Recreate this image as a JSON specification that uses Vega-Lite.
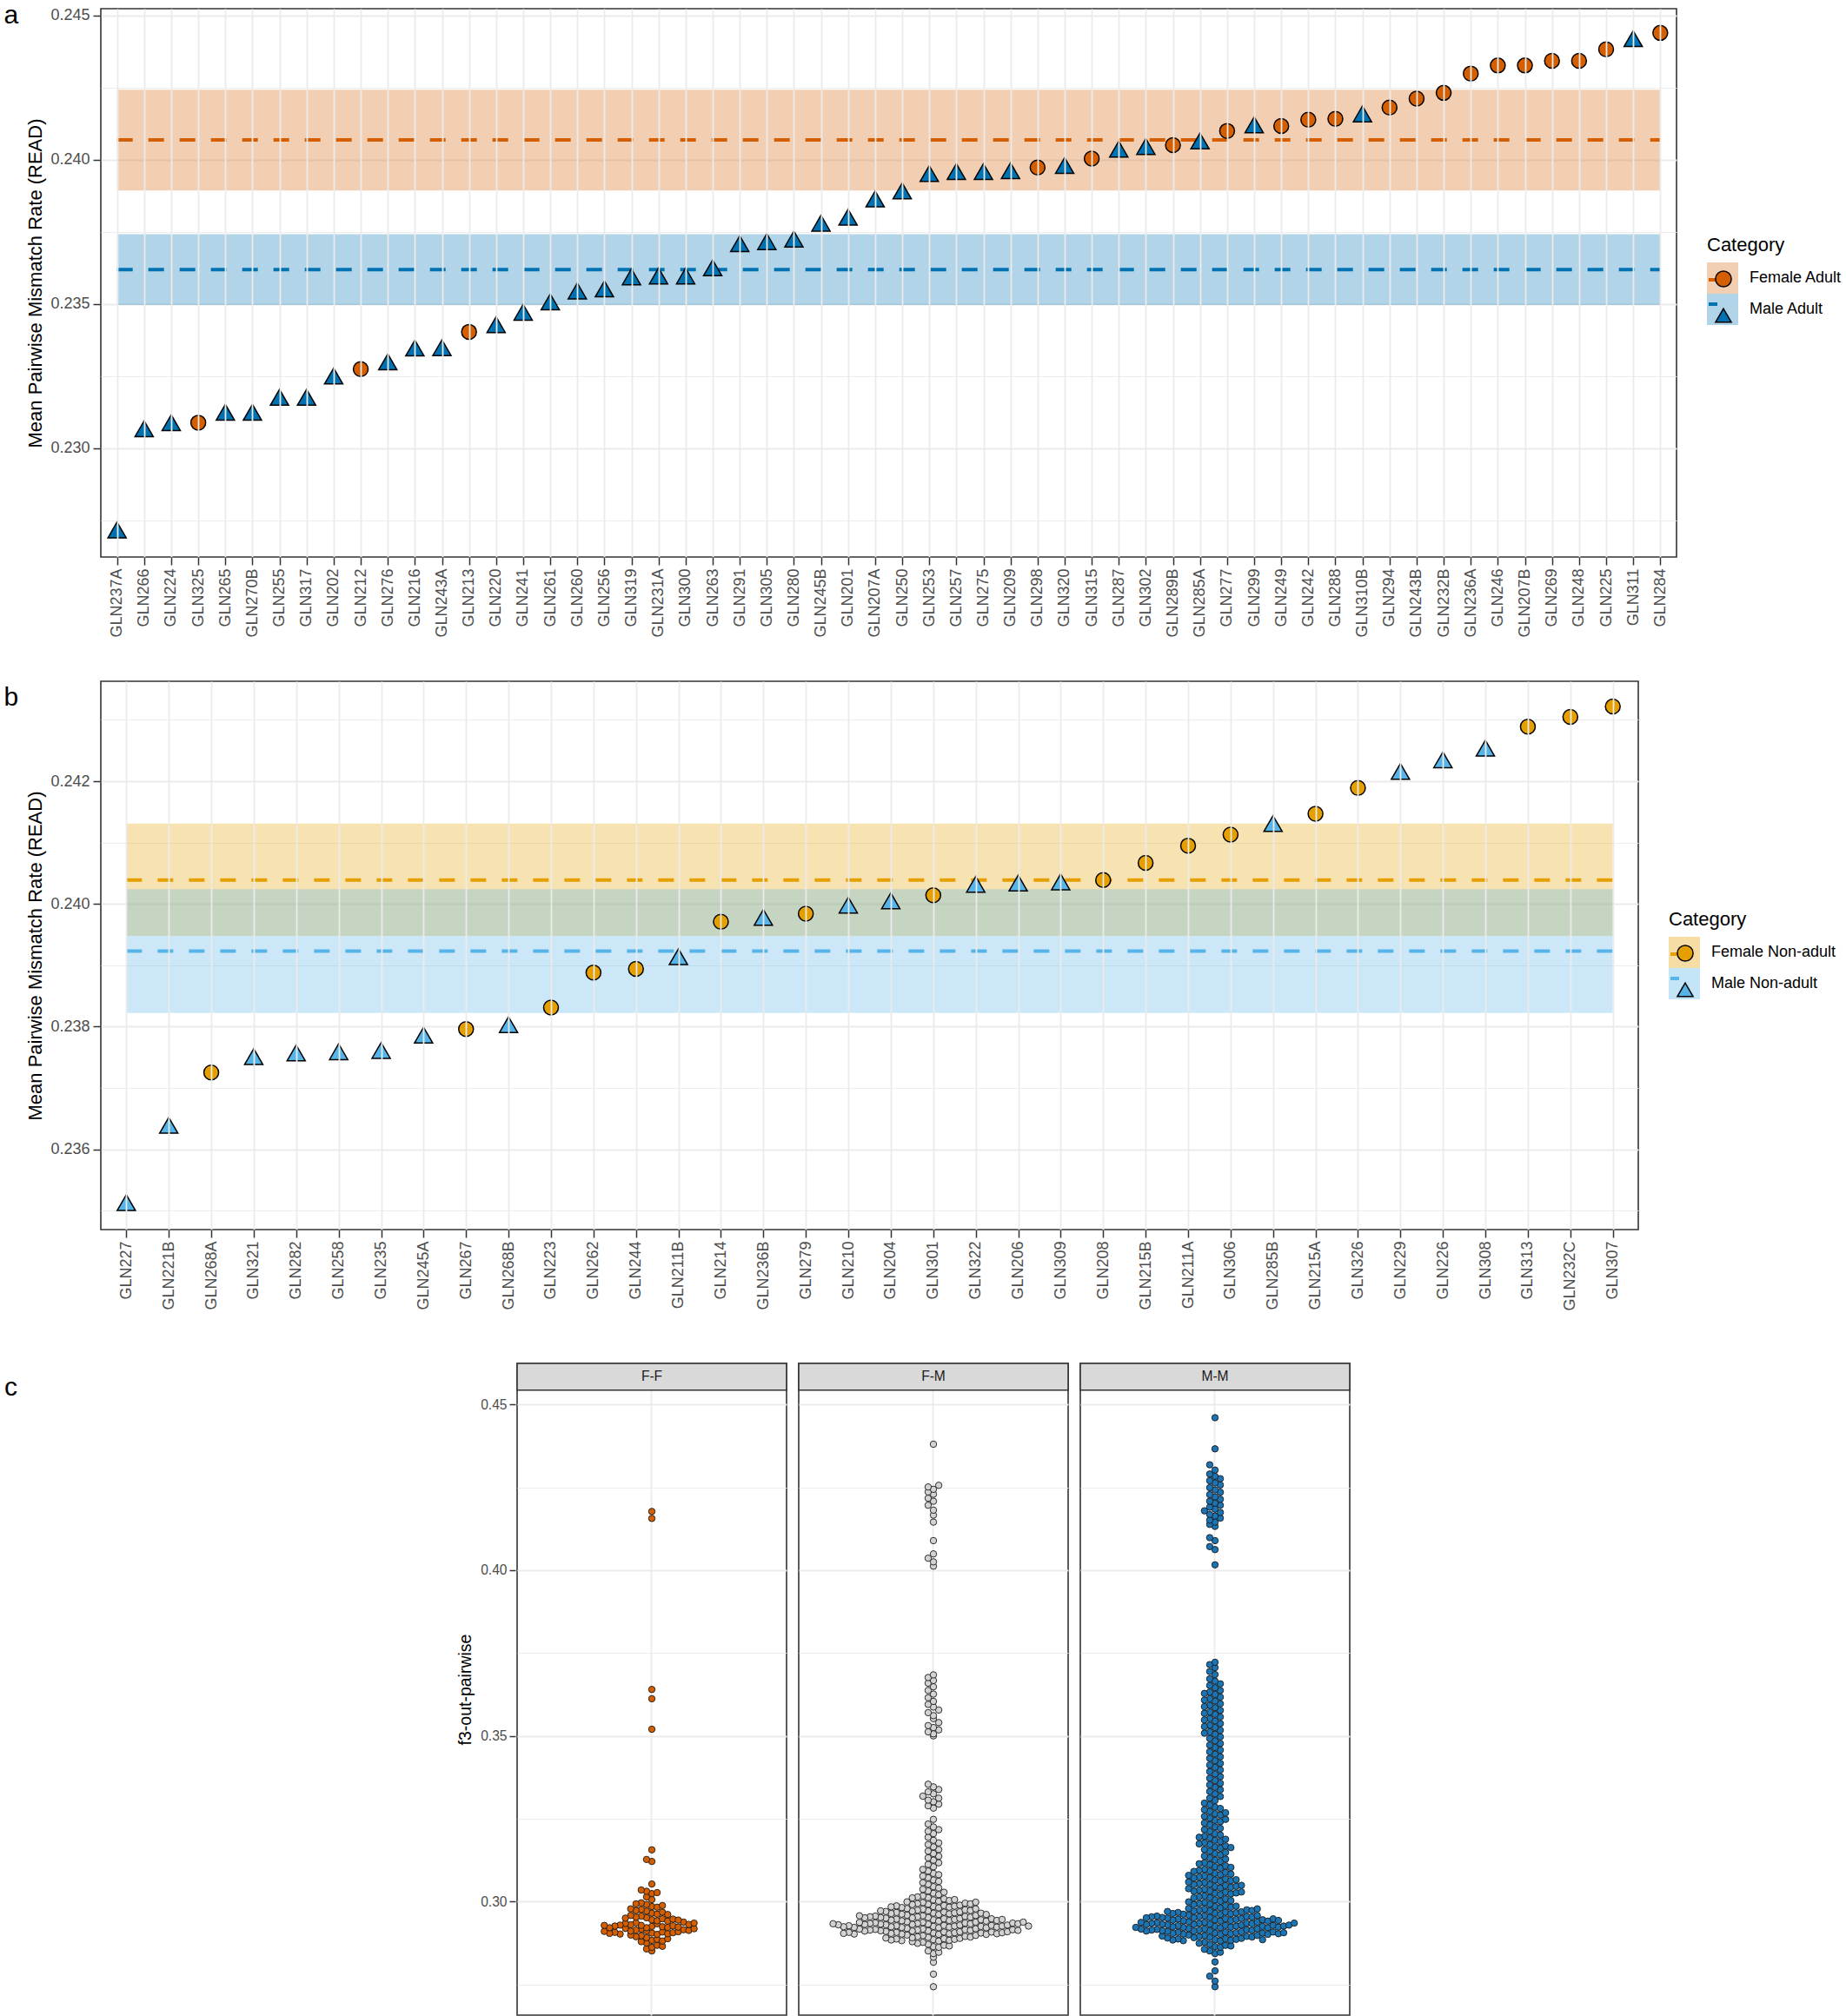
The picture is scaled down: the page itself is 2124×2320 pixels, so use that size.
{
"$schema": "https://vega.github.io/schema/vega-lite/v6.json",
"padding": {"left": 3, "top": 2, "right": 0, "bottom": 0},
"config": {
  "font": "Liberation Sans",
  "view": {"stroke": "#333333", "strokeWidth": 1.6},
  "axis": {"labelColor": "#4D4D4D", "labelFontSize": 18, "titleFontSize": 22, "titleColor": "#000000", "titleFontWeight": "normal", "tickColor": "#333333", "tickSize": 9, "tickWidth": 1.5, "domain": false, "gridColor": "#EBEBEB", "gridWidth": 1.8, "labelPadding": 4, "labelOverlap": false, "labelFlush": false},
  "title": {"fontSize": 30, "fontWeight": "normal", "color": "#000000"}
},
"resolve": {"scale": {"color": "independent", "fill": "independent", "shape": "independent", "size": "independent", "stroke": "independent"}},
"datasets": {
  "a_pts": [
    {"s":"GLN237A","v":0.22716,"c":"Male Adult"},
    {"s":"GLN266","v":0.23067,"c":"Male Adult"},
    {"s":"GLN224","v":0.23088,"c":"Male Adult"},
    {"s":"GLN325","v":0.23088,"c":"Female Adult"},
    {"s":"GLN265","v":0.23124,"c":"Male Adult"},
    {"s":"GLN270B","v":0.23124,"c":"Male Adult"},
    {"s":"GLN255","v":0.23176,"c":"Male Adult"},
    {"s":"GLN317","v":0.23176,"c":"Male Adult"},
    {"s":"GLN202","v":0.23250,"c":"Male Adult"},
    {"s":"GLN212","v":0.23274,"c":"Female Adult"},
    {"s":"GLN276","v":0.23299,"c":"Male Adult"},
    {"s":"GLN216","v":0.23347,"c":"Male Adult"},
    {"s":"GLN243A","v":0.23348,"c":"Male Adult"},
    {"s":"GLN213","v":0.23403,"c":"Female Adult"},
    {"s":"GLN220","v":0.23428,"c":"Male Adult"},
    {"s":"GLN241","v":0.23471,"c":"Male Adult"},
    {"s":"GLN261","v":0.23507,"c":"Male Adult"},
    {"s":"GLN260","v":0.23545,"c":"Male Adult"},
    {"s":"GLN256","v":0.23552,"c":"Male Adult"},
    {"s":"GLN319","v":0.23594,"c":"Male Adult"},
    {"s":"GLN231A","v":0.23597,"c":"Male Adult"},
    {"s":"GLN300","v":0.23597,"c":"Male Adult"},
    {"s":"GLN263","v":0.23625,"c":"Male Adult"},
    {"s":"GLN291","v":0.23709,"c":"Male Adult"},
    {"s":"GLN305","v":0.23716,"c":"Male Adult"},
    {"s":"GLN280","v":0.23725,"c":"Male Adult"},
    {"s":"GLN245B","v":0.23780,"c":"Male Adult"},
    {"s":"GLN201","v":0.23801,"c":"Male Adult"},
    {"s":"GLN207A","v":0.23864,"c":"Male Adult"},
    {"s":"GLN250","v":0.23892,"c":"Male Adult"},
    {"s":"GLN253","v":0.23952,"c":"Male Adult"},
    {"s":"GLN257","v":0.23959,"c":"Male Adult"},
    {"s":"GLN275","v":0.23959,"c":"Male Adult"},
    {"s":"GLN209","v":0.23962,"c":"Male Adult"},
    {"s":"GLN298","v":0.23973,"c":"Female Adult"},
    {"s":"GLN320","v":0.23980,"c":"Male Adult"},
    {"s":"GLN315","v":0.24004,"c":"Female Adult"},
    {"s":"GLN287","v":0.24037,"c":"Male Adult"},
    {"s":"GLN302","v":0.24046,"c":"Male Adult"},
    {"s":"GLN289B","v":0.24051,"c":"Female Adult"},
    {"s":"GLN285A","v":0.24065,"c":"Male Adult"},
    {"s":"GLN277","v":0.24100,"c":"Female Adult"},
    {"s":"GLN299","v":0.24121,"c":"Male Adult"},
    {"s":"GLN249","v":0.24117,"c":"Female Adult"},
    {"s":"GLN242","v":0.24139,"c":"Female Adult"},
    {"s":"GLN288","v":0.24142,"c":"Female Adult"},
    {"s":"GLN310B","v":0.24159,"c":"Male Adult"},
    {"s":"GLN294","v":0.24181,"c":"Female Adult"},
    {"s":"GLN243B","v":0.24212,"c":"Female Adult"},
    {"s":"GLN232B","v":0.24232,"c":"Female Adult"},
    {"s":"GLN236A","v":0.24299,"c":"Female Adult"},
    {"s":"GLN246","v":0.24327,"c":"Female Adult"},
    {"s":"GLN207B","v":0.24327,"c":"Female Adult"},
    {"s":"GLN269","v":0.24343,"c":"Female Adult"},
    {"s":"GLN248","v":0.24343,"c":"Female Adult"},
    {"s":"GLN225","v":0.24383,"c":"Female Adult"},
    {"s":"GLN311","v":0.24420,"c":"Male Adult"},
    {"s":"GLN284","v":0.24440,"c":"Female Adult"}
  ],
  "a_bands": [
    {"cb":"Female Adult","lo":0.23893,"hi":0.24243,"m":0.24069,"x1":"GLN237A","x2":"GLN284"},
    {"cb":"Male Adult","lo":0.23496,"hi":0.23742,"m":0.23619,"x1":"GLN237A","x2":"GLN284"}
  ],
  "b_pts": [
    {"s":"GLN227","v":0.23513,"c":"Male Non-adult"},
    {"s":"GLN221B","v":0.23639,"c":"Male Non-adult"},
    {"s":"GLN268A","v":0.23725,"c":"Female Non-adult"},
    {"s":"GLN321","v":0.23751,"c":"Male Non-adult"},
    {"s":"GLN282","v":0.23757,"c":"Male Non-adult"},
    {"s":"GLN258","v":0.23759,"c":"Male Non-adult"},
    {"s":"GLN235","v":0.23761,"c":"Male Non-adult"},
    {"s":"GLN245A","v":0.23786,"c":"Male Non-adult"},
    {"s":"GLN267","v":0.23796,"c":"Female Non-adult"},
    {"s":"GLN268B","v":0.23803,"c":"Male Non-adult"},
    {"s":"GLN223","v":0.23831,"c":"Female Non-adult"},
    {"s":"GLN262","v":0.23888,"c":"Female Non-adult"},
    {"s":"GLN244","v":0.23894,"c":"Female Non-adult"},
    {"s":"GLN211B","v":0.23914,"c":"Male Non-adult"},
    {"s":"GLN214","v":0.23971,"c":"Female Non-adult"},
    {"s":"GLN236B","v":0.23978,"c":"Male Non-adult"},
    {"s":"GLN279","v":0.23984,"c":"Female Non-adult"},
    {"s":"GLN210","v":0.23998,"c":"Male Non-adult"},
    {"s":"GLN204","v":0.24005,"c":"Male Non-adult"},
    {"s":"GLN301","v":0.24014,"c":"Female Non-adult"},
    {"s":"GLN322","v":0.24032,"c":"Male Non-adult"},
    {"s":"GLN206","v":0.24034,"c":"Male Non-adult"},
    {"s":"GLN309","v":0.24036,"c":"Male Non-adult"},
    {"s":"GLN208","v":0.24039,"c":"Female Non-adult"},
    {"s":"GLN215B","v":0.24067,"c":"Female Non-adult"},
    {"s":"GLN211A","v":0.24095,"c":"Female Non-adult"},
    {"s":"GLN306","v":0.24113,"c":"Female Non-adult"},
    {"s":"GLN285B","v":0.24131,"c":"Male Non-adult"},
    {"s":"GLN215A","v":0.24147,"c":"Female Non-adult"},
    {"s":"GLN326","v":0.24189,"c":"Female Non-adult"},
    {"s":"GLN229","v":0.24216,"c":"Male Non-adult"},
    {"s":"GLN226","v":0.24235,"c":"Male Non-adult"},
    {"s":"GLN308","v":0.24254,"c":"Male Non-adult"},
    {"s":"GLN313","v":0.24289,"c":"Female Non-adult"},
    {"s":"GLN232C","v":0.24305,"c":"Female Non-adult"},
    {"s":"GLN307","v":0.24322,"c":"Female Non-adult"}
  ],
  "b_bands": [
    {"cb":"Female Non-adult","lo":0.23948,"hi":0.24131,"m":0.24039,"x1":"GLN227","x2":"GLN307"},
    {"cb":"Male Non-adult","lo":0.23822,"hi":0.24024,"m":0.23923,"x1":"GLN227","x2":"GLN307"}
  ],
  "c_pts": [
    {"p":"F-F","v":0.2851},{"p":"F-F","v":0.2857},
    {"p":"F-F","v":0.2862},{"p":"F-F","v":0.2875},{"p":"F-F","v":0.2868},{"p":"F-F","v":0.2879},{"p":"F-F","v":0.2865},
    {"p":"F-F","v":0.2883},{"p":"F-F","v":0.2891},{"p":"F-F","v":0.2886},{"p":"F-F","v":0.2897},{"p":"F-F","v":0.2881},{"p":"F-F","v":0.2894},{"p":"F-F","v":0.2888},{"p":"F-F","v":0.2899},
    {"p":"F-F","v":0.2905},{"p":"F-F","v":0.2912},{"p":"F-F","v":0.2901},{"p":"F-F","v":0.2917},{"p":"F-F","v":0.2908},{"p":"F-F","v":0.2914},{"p":"F-F","v":0.2903},{"p":"F-F","v":0.2911},{"p":"F-F","v":0.2906},{"p":"F-F","v":0.2919},{"p":"F-F","v":0.2909},{"p":"F-F","v":0.2902},{"p":"F-F","v":0.2915},{"p":"F-F","v":0.2907},{"p":"F-F","v":0.2913},{"p":"F-F","v":0.2904},{"p":"F-F","v":0.2918},{"p":"F-F","v":0.2910},
    {"p":"F-F","v":0.2925},{"p":"F-F","v":0.2921},{"p":"F-F","v":0.2933},{"p":"F-F","v":0.2928},{"p":"F-F","v":0.2924},{"p":"F-F","v":0.2936},{"p":"F-F","v":0.2922},{"p":"F-F","v":0.2930},{"p":"F-F","v":0.2927},{"p":"F-F","v":0.2934},{"p":"F-F","v":0.2923},{"p":"F-F","v":0.2929},{"p":"F-F","v":0.2938},{"p":"F-F","v":0.2926},{"p":"F-F","v":0.2931},{"p":"F-F","v":0.2921},{"p":"F-F","v":0.2935},{"p":"F-F","v":0.2928},
    {"p":"F-F","v":0.2945},{"p":"F-F","v":0.2951},{"p":"F-F","v":0.2942},{"p":"F-F","v":0.2956},{"p":"F-F","v":0.2948},{"p":"F-F","v":0.2953},{"p":"F-F","v":0.2941},{"p":"F-F","v":0.2958},{"p":"F-F","v":0.2947},{"p":"F-F","v":0.2950},{"p":"F-F","v":0.2944},
    {"p":"F-F","v":0.2965},{"p":"F-F","v":0.2971},{"p":"F-F","v":0.2962},{"p":"F-F","v":0.2976},{"p":"F-F","v":0.2968},{"p":"F-F","v":0.2973},{"p":"F-F","v":0.2961},{"p":"F-F","v":0.2978},
    {"p":"F-F","v":0.2985},{"p":"F-F","v":0.2991},{"p":"F-F","v":0.2983},{"p":"F-F","v":0.2996},{"p":"F-F","v":0.2988},{"p":"F-F","v":0.2993},
    {"p":"F-F","v":0.3006},{"p":"F-F","v":0.3014},
    {"p":"F-F","v":0.3024},{"p":"F-F","v":0.3031},{"p":"F-F","v":0.3027},{"p":"F-F","v":0.3035},
    {"p":"F-F","v":0.3053},{"p":"F-F","v":0.3121},{"p":"F-F","v":0.3127},{"p":"F-F","v":0.3156},
    {"p":"F-F","v":0.3520},{"p":"F-F","v":0.3612},{"p":"F-F","v":0.3640},{"p":"F-F","v":0.4156},{"p":"F-F","v":0.4177},

    {"p":"F-M","v":0.2743},{"p":"F-M","v":0.2781},{"p":"F-M","v":0.2817},{"p":"F-M","v":0.2832},
    {"p":"F-M","v":0.2843},{"p":"F-M","v":0.2851},{"p":"F-M","v":0.2847},
    {"p":"F-M","v":0.2864},{"p":"F-M","v":0.2871},{"p":"F-M","v":0.2862},{"p":"F-M","v":0.2877},{"p":"F-M","v":0.2868},{"p":"F-M","v":0.2874},{"p":"F-M","v":0.2866},{"p":"F-M","v":0.2879},
    {"p":"F-M","v":0.2885},{"p":"F-M","v":0.2892},{"p":"F-M","v":0.2881},{"p":"F-M","v":0.2897},{"p":"F-M","v":0.2888},{"p":"F-M","v":0.2894},{"p":"F-M","v":0.2883},{"p":"F-M","v":0.2891},{"p":"F-M","v":0.2886},{"p":"F-M","v":0.2899},{"p":"F-M","v":0.2889},{"p":"F-M","v":0.2882},{"p":"F-M","v":0.2895},{"p":"F-M","v":0.2887},{"p":"F-M","v":0.2893},{"p":"F-M","v":0.2884},{"p":"F-M","v":0.2898},{"p":"F-M","v":0.2890},
    {"p":"F-M","v":0.2905},{"p":"F-M","v":0.2912},{"p":"F-M","v":0.2901},{"p":"F-M","v":0.2917},{"p":"F-M","v":0.2908},{"p":"F-M","v":0.2914},{"p":"F-M","v":0.2903},{"p":"F-M","v":0.2911},{"p":"F-M","v":0.2906},{"p":"F-M","v":0.2919},{"p":"F-M","v":0.2909},{"p":"F-M","v":0.2902},{"p":"F-M","v":0.2915},{"p":"F-M","v":0.2907},{"p":"F-M","v":0.2913},{"p":"F-M","v":0.2904},{"p":"F-M","v":0.2918},{"p":"F-M","v":0.2910},{"p":"F-M","v":0.2905},{"p":"F-M","v":0.2912},{"p":"F-M","v":0.2901},{"p":"F-M","v":0.2916},{"p":"F-M","v":0.2908},{"p":"F-M","v":0.2914},{"p":"F-M","v":0.2903},{"p":"F-M","v":0.2911},{"p":"F-M","v":0.2906},{"p":"F-M","v":0.2917},{"p":"F-M","v":0.2909},{"p":"F-M","v":0.2902},{"p":"F-M","v":0.2915},{"p":"F-M","v":0.2907},{"p":"F-M","v":0.2913},{"p":"F-M","v":0.2904},
    {"p":"F-M","v":0.2925},{"p":"F-M","v":0.2932},{"p":"F-M","v":0.2921},{"p":"F-M","v":0.2937},{"p":"F-M","v":0.2928},{"p":"F-M","v":0.2934},{"p":"F-M","v":0.2923},{"p":"F-M","v":0.2931},{"p":"F-M","v":0.2926},{"p":"F-M","v":0.2939},{"p":"F-M","v":0.2929},{"p":"F-M","v":0.2922},{"p":"F-M","v":0.2935},{"p":"F-M","v":0.2927},{"p":"F-M","v":0.2933},{"p":"F-M","v":0.2924},{"p":"F-M","v":0.2938},{"p":"F-M","v":0.2930},{"p":"F-M","v":0.2925},{"p":"F-M","v":0.2932},{"p":"F-M","v":0.2921},{"p":"F-M","v":0.2936},{"p":"F-M","v":0.2928},{"p":"F-M","v":0.2934},{"p":"F-M","v":0.2923},{"p":"F-M","v":0.2931},{"p":"F-M","v":0.2926},{"p":"F-M","v":0.2937},{"p":"F-M","v":0.2929},{"p":"F-M","v":0.2922},{"p":"F-M","v":0.2935},{"p":"F-M","v":0.2927},{"p":"F-M","v":0.2933},{"p":"F-M","v":0.2924},{"p":"F-M","v":0.2938},{"p":"F-M","v":0.2930},{"p":"F-M","v":0.2926},{"p":"F-M","v":0.2933},
    {"p":"F-M","v":0.2945},{"p":"F-M","v":0.2952},{"p":"F-M","v":0.2941},{"p":"F-M","v":0.2957},{"p":"F-M","v":0.2948},{"p":"F-M","v":0.2954},{"p":"F-M","v":0.2943},{"p":"F-M","v":0.2951},{"p":"F-M","v":0.2946},{"p":"F-M","v":0.2959},{"p":"F-M","v":0.2949},{"p":"F-M","v":0.2942},{"p":"F-M","v":0.2955},{"p":"F-M","v":0.2947},{"p":"F-M","v":0.2953},{"p":"F-M","v":0.2944},{"p":"F-M","v":0.2958},{"p":"F-M","v":0.2950},{"p":"F-M","v":0.2945},{"p":"F-M","v":0.2952},{"p":"F-M","v":0.2941},{"p":"F-M","v":0.2956},{"p":"F-M","v":0.2948},{"p":"F-M","v":0.2954},{"p":"F-M","v":0.2943},{"p":"F-M","v":0.2951},{"p":"F-M","v":0.2946},{"p":"F-M","v":0.2957},
    {"p":"F-M","v":0.2965},{"p":"F-M","v":0.2972},{"p":"F-M","v":0.2961},{"p":"F-M","v":0.2977},{"p":"F-M","v":0.2968},{"p":"F-M","v":0.2974},{"p":"F-M","v":0.2963},{"p":"F-M","v":0.2971},{"p":"F-M","v":0.2966},{"p":"F-M","v":0.2979},{"p":"F-M","v":0.2969},{"p":"F-M","v":0.2962},{"p":"F-M","v":0.2975},{"p":"F-M","v":0.2967},{"p":"F-M","v":0.2973},{"p":"F-M","v":0.2964},{"p":"F-M","v":0.2978},{"p":"F-M","v":0.2970},{"p":"F-M","v":0.2965},{"p":"F-M","v":0.2972},{"p":"F-M","v":0.2961},
    {"p":"F-M","v":0.2985},{"p":"F-M","v":0.2992},{"p":"F-M","v":0.2981},{"p":"F-M","v":0.2997},{"p":"F-M","v":0.2988},{"p":"F-M","v":0.2994},{"p":"F-M","v":0.2983},{"p":"F-M","v":0.2991},{"p":"F-M","v":0.2986},{"p":"F-M","v":0.2999},{"p":"F-M","v":0.2989},{"p":"F-M","v":0.2982},{"p":"F-M","v":0.2995},{"p":"F-M","v":0.2987},{"p":"F-M","v":0.2993},{"p":"F-M","v":0.2984},{"p":"F-M","v":0.2998},
    {"p":"F-M","v":0.3005},{"p":"F-M","v":0.3012},{"p":"F-M","v":0.3001},{"p":"F-M","v":0.3017},{"p":"F-M","v":0.3008},{"p":"F-M","v":0.3014},{"p":"F-M","v":0.3003},{"p":"F-M","v":0.3011},{"p":"F-M","v":0.3006},
    {"p":"F-M","v":0.3025},{"p":"F-M","v":0.3032},{"p":"F-M","v":0.3021},{"p":"F-M","v":0.3037},{"p":"F-M","v":0.3028},
    {"p":"F-M","v":0.3045},{"p":"F-M","v":0.3052},{"p":"F-M","v":0.3041},{"p":"F-M","v":0.3057},
    {"p":"F-M","v":0.3065},{"p":"F-M","v":0.3072},{"p":"F-M","v":0.3061},{"p":"F-M","v":0.3077},
    {"p":"F-M","v":0.3085},{"p":"F-M","v":0.3092},{"p":"F-M","v":0.3081},{"p":"F-M","v":0.3097},
    {"p":"F-M","v":0.3105},{"p":"F-M","v":0.3112},{"p":"F-M","v":0.3117},
    {"p":"F-M","v":0.3125},{"p":"F-M","v":0.3132},{"p":"F-M","v":0.3137},
    {"p":"F-M","v":0.3145},{"p":"F-M","v":0.3152},{"p":"F-M","v":0.3157},
    {"p":"F-M","v":0.3165},{"p":"F-M","v":0.3172},{"p":"F-M","v":0.3177},
    {"p":"F-M","v":0.3185},{"p":"F-M","v":0.3194},
    {"p":"F-M","v":0.3205},{"p":"F-M","v":0.3212},{"p":"F-M","v":0.3217},
    {"p":"F-M","v":0.3225},{"p":"F-M","v":0.3234},{"p":"F-M","v":0.3248},
    {"p":"F-M","v":0.3282},{"p":"F-M","v":0.3289},{"p":"F-M","v":0.3294},{"p":"F-M","v":0.3301},{"p":"F-M","v":0.3306},{"p":"F-M","v":0.3312},{"p":"F-M","v":0.3318},{"p":"F-M","v":0.3325},{"p":"F-M","v":0.3331},{"p":"F-M","v":0.3338},{"p":"F-M","v":0.3346},{"p":"F-M","v":0.3354},
    {"p":"F-M","v":0.3500},{"p":"F-M","v":0.3506},{"p":"F-M","v":0.3512},{"p":"F-M","v":0.3518},{"p":"F-M","v":0.3525},{"p":"F-M","v":0.3531},{"p":"F-M","v":0.3540},{"p":"F-M","v":0.3552},{"p":"F-M","v":0.3561},{"p":"F-M","v":0.3570},{"p":"F-M","v":0.3578},{"p":"F-M","v":0.3587},{"p":"F-M","v":0.3595},{"p":"F-M","v":0.3604},{"p":"F-M","v":0.3615},{"p":"F-M","v":0.3626},{"p":"F-M","v":0.3637},{"p":"F-M","v":0.3648},{"p":"F-M","v":0.3659},{"p":"F-M","v":0.3667},{"p":"F-M","v":0.3676},{"p":"F-M","v":0.3684},
    {"p":"F-M","v":0.4012},{"p":"F-M","v":0.4025},{"p":"F-M","v":0.4036},{"p":"F-M","v":0.4049},{"p":"F-M","v":0.4089},{"p":"F-M","v":0.4145},{"p":"F-M","v":0.4166},{"p":"F-M","v":0.4181},{"p":"F-M","v":0.4196},{"p":"F-M","v":0.4208},{"p":"F-M","v":0.4217},{"p":"F-M","v":0.4229},{"p":"F-M","v":0.4236},{"p":"F-M","v":0.4244},{"p":"F-M","v":0.4251},{"p":"F-M","v":0.4256},
    {"p":"F-M","v":0.4380},

    {"p":"M-M","v":0.2743},{"p":"M-M","v":0.2760},{"p":"M-M","v":0.2775},{"p":"M-M","v":0.2791},{"p":"M-M","v":0.2818},
    {"p":"M-M","v":0.2843},{"p":"M-M","v":0.2851},{"p":"M-M","v":0.2847},{"p":"M-M","v":0.2856},
    {"p":"M-M","v":0.2864},{"p":"M-M","v":0.2871},{"p":"M-M","v":0.2862},{"p":"M-M","v":0.2877},{"p":"M-M","v":0.2868},{"p":"M-M","v":0.2874},{"p":"M-M","v":0.2866},
    {"p":"M-M","v":0.2885},{"p":"M-M","v":0.2892},{"p":"M-M","v":0.2881},{"p":"M-M","v":0.2897},{"p":"M-M","v":0.2888},{"p":"M-M","v":0.2894},{"p":"M-M","v":0.2883},{"p":"M-M","v":0.2891},{"p":"M-M","v":0.2886},{"p":"M-M","v":0.2899},{"p":"M-M","v":0.2889},{"p":"M-M","v":0.2882},{"p":"M-M","v":0.2895},{"p":"M-M","v":0.2887},{"p":"M-M","v":0.2893},{"p":"M-M","v":0.2884},{"p":"M-M","v":0.2898},{"p":"M-M","v":0.2890},{"p":"M-M","v":0.2885},{"p":"M-M","v":0.2896},
    {"p":"M-M","v":0.2905},{"p":"M-M","v":0.2912},{"p":"M-M","v":0.2901},{"p":"M-M","v":0.2917},{"p":"M-M","v":0.2908},{"p":"M-M","v":0.2914},{"p":"M-M","v":0.2903},{"p":"M-M","v":0.2911},{"p":"M-M","v":0.2906},{"p":"M-M","v":0.2919},{"p":"M-M","v":0.2909},{"p":"M-M","v":0.2902},{"p":"M-M","v":0.2915},{"p":"M-M","v":0.2907},{"p":"M-M","v":0.2913},{"p":"M-M","v":0.2904},{"p":"M-M","v":0.2918},{"p":"M-M","v":0.2910},{"p":"M-M","v":0.2905},{"p":"M-M","v":0.2912},{"p":"M-M","v":0.2901},{"p":"M-M","v":0.2916},{"p":"M-M","v":0.2908},{"p":"M-M","v":0.2914},{"p":"M-M","v":0.2903},{"p":"M-M","v":0.2911},{"p":"M-M","v":0.2906},{"p":"M-M","v":0.2917},
    {"p":"M-M","v":0.2925},{"p":"M-M","v":0.2932},{"p":"M-M","v":0.2921},{"p":"M-M","v":0.2937},{"p":"M-M","v":0.2928},{"p":"M-M","v":0.2934},{"p":"M-M","v":0.2923},{"p":"M-M","v":0.2931},{"p":"M-M","v":0.2926},{"p":"M-M","v":0.2939},{"p":"M-M","v":0.2929},{"p":"M-M","v":0.2922},{"p":"M-M","v":0.2935},{"p":"M-M","v":0.2927},{"p":"M-M","v":0.2933},{"p":"M-M","v":0.2924},{"p":"M-M","v":0.2938},{"p":"M-M","v":0.2930},{"p":"M-M","v":0.2925},{"p":"M-M","v":0.2932},{"p":"M-M","v":0.2921},{"p":"M-M","v":0.2936},{"p":"M-M","v":0.2928},{"p":"M-M","v":0.2934},{"p":"M-M","v":0.2923},{"p":"M-M","v":0.2931},{"p":"M-M","v":0.2926},{"p":"M-M","v":0.2937},{"p":"M-M","v":0.2929},{"p":"M-M","v":0.2922},{"p":"M-M","v":0.2935},
    {"p":"M-M","v":0.2945},{"p":"M-M","v":0.2952},{"p":"M-M","v":0.2941},{"p":"M-M","v":0.2957},{"p":"M-M","v":0.2948},{"p":"M-M","v":0.2954},{"p":"M-M","v":0.2943},{"p":"M-M","v":0.2951},{"p":"M-M","v":0.2946},{"p":"M-M","v":0.2959},{"p":"M-M","v":0.2949},{"p":"M-M","v":0.2942},{"p":"M-M","v":0.2955},{"p":"M-M","v":0.2947},{"p":"M-M","v":0.2953},{"p":"M-M","v":0.2944},{"p":"M-M","v":0.2958},{"p":"M-M","v":0.2950},{"p":"M-M","v":0.2945},{"p":"M-M","v":0.2952},{"p":"M-M","v":0.2941},{"p":"M-M","v":0.2956},{"p":"M-M","v":0.2948},{"p":"M-M","v":0.2954},{"p":"M-M","v":0.2943},{"p":"M-M","v":0.2951},
    {"p":"M-M","v":0.2965},{"p":"M-M","v":0.2972},{"p":"M-M","v":0.2961},{"p":"M-M","v":0.2977},{"p":"M-M","v":0.2968},{"p":"M-M","v":0.2974},{"p":"M-M","v":0.2963},{"p":"M-M","v":0.2971},{"p":"M-M","v":0.2966},{"p":"M-M","v":0.2979},{"p":"M-M","v":0.2969},{"p":"M-M","v":0.2962},{"p":"M-M","v":0.2975},{"p":"M-M","v":0.2967},{"p":"M-M","v":0.2973},{"p":"M-M","v":0.2964},{"p":"M-M","v":0.2978},{"p":"M-M","v":0.2970},
    {"p":"M-M","v":0.2985},{"p":"M-M","v":0.2992},{"p":"M-M","v":0.2981},{"p":"M-M","v":0.2997},{"p":"M-M","v":0.2988},{"p":"M-M","v":0.2994},{"p":"M-M","v":0.2983},{"p":"M-M","v":0.2991},{"p":"M-M","v":0.2986},{"p":"M-M","v":0.2999},
    {"p":"M-M","v":0.3005},{"p":"M-M","v":0.3012},{"p":"M-M","v":0.3001},{"p":"M-M","v":0.3017},{"p":"M-M","v":0.3008},{"p":"M-M","v":0.3014},{"p":"M-M","v":0.3003},{"p":"M-M","v":0.3011},
    {"p":"M-M","v":0.3025},{"p":"M-M","v":0.3032},{"p":"M-M","v":0.3021},{"p":"M-M","v":0.3037},{"p":"M-M","v":0.3028},{"p":"M-M","v":0.3034},{"p":"M-M","v":0.3023},{"p":"M-M","v":0.3031},{"p":"M-M","v":0.3026},{"p":"M-M","v":0.3039},{"p":"M-M","v":0.3029},
    {"p":"M-M","v":0.3045},{"p":"M-M","v":0.3052},{"p":"M-M","v":0.3041},{"p":"M-M","v":0.3057},{"p":"M-M","v":0.3048},{"p":"M-M","v":0.3054},{"p":"M-M","v":0.3043},{"p":"M-M","v":0.3051},{"p":"M-M","v":0.3046},{"p":"M-M","v":0.3059},{"p":"M-M","v":0.3049},
    {"p":"M-M","v":0.3065},{"p":"M-M","v":0.3072},{"p":"M-M","v":0.3061},{"p":"M-M","v":0.3077},{"p":"M-M","v":0.3068},{"p":"M-M","v":0.3074},{"p":"M-M","v":0.3063},{"p":"M-M","v":0.3071},{"p":"M-M","v":0.3066},{"p":"M-M","v":0.3079},
    {"p":"M-M","v":0.3085},{"p":"M-M","v":0.3092},{"p":"M-M","v":0.3081},{"p":"M-M","v":0.3097},{"p":"M-M","v":0.3088},{"p":"M-M","v":0.3094},{"p":"M-M","v":0.3083},{"p":"M-M","v":0.3091},
    {"p":"M-M","v":0.3105},{"p":"M-M","v":0.3112},{"p":"M-M","v":0.3101},{"p":"M-M","v":0.3117},{"p":"M-M","v":0.3108},{"p":"M-M","v":0.3114},{"p":"M-M","v":0.3103},
    {"p":"M-M","v":0.3125},{"p":"M-M","v":0.3132},{"p":"M-M","v":0.3121},{"p":"M-M","v":0.3137},{"p":"M-M","v":0.3128},
    {"p":"M-M","v":0.3145},{"p":"M-M","v":0.3152},{"p":"M-M","v":0.3141},{"p":"M-M","v":0.3157},{"p":"M-M","v":0.3148},
    {"p":"M-M","v":0.3165},{"p":"M-M","v":0.3172},{"p":"M-M","v":0.3161},{"p":"M-M","v":0.3177},{"p":"M-M","v":0.3168},{"p":"M-M","v":0.3174},{"p":"M-M","v":0.3163},
    {"p":"M-M","v":0.3185},{"p":"M-M","v":0.3192},{"p":"M-M","v":0.3181},{"p":"M-M","v":0.3197},{"p":"M-M","v":0.3188},{"p":"M-M","v":0.3194},
    {"p":"M-M","v":0.3205},{"p":"M-M","v":0.3212},{"p":"M-M","v":0.3201},{"p":"M-M","v":0.3217},
    {"p":"M-M","v":0.3225},{"p":"M-M","v":0.3232},{"p":"M-M","v":0.3221},{"p":"M-M","v":0.3237},
    {"p":"M-M","v":0.3245},{"p":"M-M","v":0.3252},{"p":"M-M","v":0.3241},{"p":"M-M","v":0.3257},{"p":"M-M","v":0.3248},
    {"p":"M-M","v":0.3265},{"p":"M-M","v":0.3272},{"p":"M-M","v":0.3261},{"p":"M-M","v":0.3277},{"p":"M-M","v":0.3268},
    {"p":"M-M","v":0.3285},{"p":"M-M","v":0.3292},{"p":"M-M","v":0.3281},{"p":"M-M","v":0.3297},
    {"p":"M-M","v":0.3305},{"p":"M-M","v":0.3312},{"p":"M-M","v":0.3317},{"p":"M-M","v":0.3325},{"p":"M-M","v":0.3332},{"p":"M-M","v":0.3337},{"p":"M-M","v":0.3345},{"p":"M-M","v":0.3352},{"p":"M-M","v":0.3357},{"p":"M-M","v":0.3365},{"p":"M-M","v":0.3372},{"p":"M-M","v":0.3377},{"p":"M-M","v":0.3385},{"p":"M-M","v":0.3392},{"p":"M-M","v":0.3397},{"p":"M-M","v":0.3405},{"p":"M-M","v":0.3412},{"p":"M-M","v":0.3417},{"p":"M-M","v":0.3425},{"p":"M-M","v":0.3432},{"p":"M-M","v":0.3437},{"p":"M-M","v":0.3445},{"p":"M-M","v":0.3452},{"p":"M-M","v":0.3457},{"p":"M-M","v":0.3465},{"p":"M-M","v":0.3472},{"p":"M-M","v":0.3477},{"p":"M-M","v":0.3485},{"p":"M-M","v":0.3492},{"p":"M-M","v":0.3497},
    {"p":"M-M","v":0.3505},{"p":"M-M","v":0.3512},{"p":"M-M","v":0.3517},{"p":"M-M","v":0.3508},{"p":"M-M","v":0.3525},{"p":"M-M","v":0.3532},{"p":"M-M","v":0.3537},{"p":"M-M","v":0.3528},{"p":"M-M","v":0.3545},{"p":"M-M","v":0.3552},{"p":"M-M","v":0.3557},{"p":"M-M","v":0.3548},{"p":"M-M","v":0.3565},{"p":"M-M","v":0.3572},{"p":"M-M","v":0.3577},{"p":"M-M","v":0.3568},{"p":"M-M","v":0.3585},{"p":"M-M","v":0.3592},{"p":"M-M","v":0.3597},{"p":"M-M","v":0.3588},{"p":"M-M","v":0.3605},{"p":"M-M","v":0.3612},{"p":"M-M","v":0.3617},{"p":"M-M","v":0.3608},{"p":"M-M","v":0.3625},{"p":"M-M","v":0.3632},{"p":"M-M","v":0.3637},{"p":"M-M","v":0.3628},
    {"p":"M-M","v":0.3645},{"p":"M-M","v":0.3652},{"p":"M-M","v":0.3657},{"p":"M-M","v":0.3665},{"p":"M-M","v":0.3672},{"p":"M-M","v":0.3685},{"p":"M-M","v":0.3694},{"p":"M-M","v":0.3706},{"p":"M-M","v":0.3715},{"p":"M-M","v":0.3722},
    {"p":"M-M","v":0.4016},{"p":"M-M","v":0.4062},{"p":"M-M","v":0.4071},{"p":"M-M","v":0.4089},{"p":"M-M","v":0.4098},
    {"p":"M-M","v":0.4132},{"p":"M-M","v":0.4138},{"p":"M-M","v":0.4145},{"p":"M-M","v":0.4151},{"p":"M-M","v":0.4157},{"p":"M-M","v":0.4163},{"p":"M-M","v":0.4168},{"p":"M-M","v":0.4174},{"p":"M-M","v":0.4179},{"p":"M-M","v":0.4184},{"p":"M-M","v":0.4190},{"p":"M-M","v":0.4196},{"p":"M-M","v":0.4202},{"p":"M-M","v":0.4208},{"p":"M-M","v":0.4214},{"p":"M-M","v":0.4221},{"p":"M-M","v":0.4228},{"p":"M-M","v":0.4235},{"p":"M-M","v":0.4242},{"p":"M-M","v":0.4249},{"p":"M-M","v":0.4257},{"p":"M-M","v":0.4263},{"p":"M-M","v":0.4270},{"p":"M-M","v":0.4276},
    {"p":"M-M","v":0.4283},{"p":"M-M","v":0.4290},{"p":"M-M","v":0.4302},{"p":"M-M","v":0.4318},{"p":"M-M","v":0.4366},{"p":"M-M","v":0.4460}
  ]
},
"spacing": 49,
"vconcat": [
  {
    "width": 1813, "height": 631,
    "title": {"text": "a", "orient": "left", "anchor": "end", "angle": 0, "align": "right", "baseline": "alphabetic", "dy": 18, "offset": -8},
    "layer": [
      {
        "data": {"name": "a_bands"},
        "mark": {"type": "rect", "opacity": 0.3},
        "encoding": {
          "x": {"field": "x1", "type": "nominal", "scale": {"type": "point", "padding": 0.6, "domain": ["GLN237A","GLN266","GLN224","GLN325","GLN265","GLN270B","GLN255","GLN317","GLN202","GLN212","GLN276","GLN216","GLN243A","GLN213","GLN220","GLN241","GLN261","GLN260","GLN256","GLN319","GLN231A","GLN300","GLN263","GLN291","GLN305","GLN280","GLN245B","GLN201","GLN207A","GLN250","GLN253","GLN257","GLN275","GLN209","GLN298","GLN320","GLN315","GLN287","GLN302","GLN289B","GLN285A","GLN277","GLN299","GLN249","GLN242","GLN288","GLN310B","GLN294","GLN243B","GLN232B","GLN236A","GLN246","GLN207B","GLN269","GLN248","GLN225","GLN311","GLN284"]},
                "axis": {"title": null, "labelAngle": 270, "grid": true, "labelOverlap": false}},
          "x2": {"field": "x2"},
          "y": {"field": "lo", "type": "quantitative", "scale": {"domain": [0.22622, 0.24524], "nice": false, "zero": false},
                "axis": {"title": "Mean Pairwise Mismatch Rate (READ)", "titlePadding": 5,
                  "values": [0.2275, 0.23, 0.2325, 0.235, 0.2375, 0.24, 0.2425, 0.245],
                  "labelExpr": "indexof([0.2275,0.2325,0.2375,0.2425], datum.value) >= 0 ? '' : format(datum.value, '.3f')",
                  "tickOpacity": {"condition": {"test": "indexof([0.2275,0.2325,0.2375,0.2425], datum.value) >= 0", "value": 0}, "value": 1},
                  "gridWidth": {"condition": {"test": "indexof([0.2275,0.2325,0.2375,0.2425], datum.value) >= 0", "value": 0.9}, "value": 1.8}}},
          "y2": {"field": "hi"},
          "color": {"field": "cb", "type": "nominal", "scale": {"range": ["#D55E00", "#0072B2"]},
            "legend": {"title": "Category", "orient": "none", "legendX": 1848, "legendY": 262, "symbolType": "square", "symbolSize": 1296, "symbolOpacity": 0.3, "symbolStrokeWidth": 0, "rowPadding": 0, "labelOffset": 13, "labelFontSize": 18, "labelColor": "#000000", "labelLimit": 300, "titleFontSize": 22, "titleFontWeight": "normal", "titleColor": "#000000", "titlePadding": 8, "padding": 0}}
        }
      },
      {
        "data": {"name": "a_bands"},
        "mark": {"type": "rule", "strokeWidth": 4, "strokeDash": [18, 18]},
        "encoding": {
          "x": {"field": "x1", "type": "nominal", "scale": {"type": "point", "padding": 0.6, "domain": ["GLN237A","GLN266","GLN224","GLN325","GLN265","GLN270B","GLN255","GLN317","GLN202","GLN212","GLN276","GLN216","GLN243A","GLN213","GLN220","GLN241","GLN261","GLN260","GLN256","GLN319","GLN231A","GLN300","GLN263","GLN291","GLN305","GLN280","GLN245B","GLN201","GLN207A","GLN250","GLN253","GLN257","GLN275","GLN209","GLN298","GLN320","GLN315","GLN287","GLN302","GLN289B","GLN285A","GLN277","GLN299","GLN249","GLN242","GLN288","GLN310B","GLN294","GLN243B","GLN232B","GLN236A","GLN246","GLN207B","GLN269","GLN248","GLN225","GLN311","GLN284"]}, "axis": {"title": null}},
          "x2": {"field": "x2"},
          "y": {"field": "m", "type": "quantitative", "axis": {"title": "Mean Pairwise Mismatch Rate (READ)"}},
          "stroke": {"field": "cb", "type": "nominal", "scale": {"domain": ["Male Adult", "Female Adult"], "range": ["#0072B2", "#D55E00"]},
            "legend": {"title": " ", "orient": "none", "legendX": 1848, "legendY": 262, "values": ["Female Adult", "Male Adult"], "symbolType": "stroke", "symbolSize": 1296, "symbolStrokeWidth": 4, "symbolDash": [10, 26], "rowPadding": 0, "labelExpr": "''", "titleFontSize": 22, "titleFontWeight": "normal", "titlePadding": 8, "padding": 0}}
        }
      },
      {
        "data": {"name": "a_pts"},
        "mark": {"type": "point", "filled": true, "opacity": 1, "stroke": "#000000", "strokeWidth": 1.5},
        "encoding": {
          "x": {"field": "s", "type": "nominal", "scale": {"type": "point", "padding": 0.6, "domain": ["GLN237A","GLN266","GLN224","GLN325","GLN265","GLN270B","GLN255","GLN317","GLN202","GLN212","GLN276","GLN216","GLN243A","GLN213","GLN220","GLN241","GLN261","GLN260","GLN256","GLN319","GLN231A","GLN300","GLN263","GLN291","GLN305","GLN280","GLN245B","GLN201","GLN207A","GLN250","GLN253","GLN257","GLN275","GLN209","GLN298","GLN320","GLN315","GLN287","GLN302","GLN289B","GLN285A","GLN277","GLN299","GLN249","GLN242","GLN288","GLN310B","GLN294","GLN243B","GLN232B","GLN236A","GLN246","GLN207B","GLN269","GLN248","GLN225","GLN311","GLN284"]}, "axis": {"title": null}},
          "y": {"field": "v", "type": "quantitative", "axis": {"title": "Mean Pairwise Mismatch Rate (READ)"}},
          "fill": {"field": "c", "type": "nominal", "scale": {"domain": ["Female Adult", "Male Adult"], "range": ["#D55E00", "#0072B2"]},
            "legend": {"title": " ", "orient": "none", "legendX": 1857, "legendY": 271, "symbolSize": 330, "symbolOpacity": 1, "symbolStrokeColor": "#000000", "symbolStrokeWidth": 1.5, "rowPadding": 18, "labelExpr": "''", "titleFontSize": 22, "titleFontWeight": "normal", "titlePadding": 8, "padding": 0, "labelFontSize": 18}},
          "shape": {"field": "c", "type": "nominal", "scale": {"domain": ["Female Adult", "Male Adult"], "range": ["circle", "triangle-up"]}},
          "size": {"field": "c", "type": "ordinal", "scale": {"range": [289, 441]}, "legend": null}
        }
      }
    ]
  },
  {
    "width": 1769, "height": 631,
    "title": {"text": "b", "orient": "left", "anchor": "end", "angle": 0, "align": "right", "baseline": "alphabetic", "dy": 28, "offset": -8},
    "layer": [
      {
        "data": {"name": "b_bands"},
        "mark": {"type": "rect", "opacity": 0.3},
        "encoding": {
          "x": {"field": "x1", "type": "nominal", "scale": {"type": "point", "padding": 0.6, "domain": ["GLN227","GLN221B","GLN268A","GLN321","GLN282","GLN258","GLN235","GLN245A","GLN267","GLN268B","GLN223","GLN262","GLN244","GLN211B","GLN214","GLN236B","GLN279","GLN210","GLN204","GLN301","GLN322","GLN206","GLN309","GLN208","GLN215B","GLN211A","GLN306","GLN285B","GLN215A","GLN326","GLN229","GLN226","GLN308","GLN313","GLN232C","GLN307"]},
                "axis": {"title": null, "labelAngle": 270, "grid": true, "labelOverlap": false, "minExtent": 102}},
          "x2": {"field": "x2"},
          "y": {"field": "lo", "type": "quantitative", "scale": {"domain": [0.23469, 0.24363], "nice": false, "zero": false},
                "axis": {"title": "Mean Pairwise Mismatch Rate (READ)", "titlePadding": 5,
                  "values": [0.235, 0.236, 0.237, 0.238, 0.239, 0.24, 0.241, 0.242, 0.243],
                  "labelExpr": "indexof([0.235,0.237,0.239,0.241,0.243], datum.value) >= 0 ? '' : format(datum.value, '.3f')",
                  "tickOpacity": {"condition": {"test": "indexof([0.235,0.237,0.239,0.241,0.243], datum.value) >= 0", "value": 0}, "value": 1},
                  "gridWidth": {"condition": {"test": "indexof([0.235,0.237,0.239,0.241,0.243], datum.value) >= 0", "value": 0.9}, "value": 1.8}}},
          "y2": {"field": "hi"},
          "color": {"field": "cb", "type": "nominal", "scale": {"range": ["#E69F00", "#56B4E9"]},
            "legend": {"title": "Category", "orient": "none", "legendX": 1804, "legendY": 264, "symbolType": "square", "symbolSize": 1296, "symbolOpacity": 0.35, "symbolStrokeWidth": 0, "rowPadding": 0, "labelOffset": 13, "labelFontSize": 18, "labelColor": "#000000", "labelLimit": 300, "titleFontSize": 22, "titleFontWeight": "normal", "titleColor": "#000000", "titlePadding": 8, "padding": 0}}
        }
      },
      {
        "data": {"name": "b_bands"},
        "mark": {"type": "rule", "strokeWidth": 4, "strokeDash": [18, 18]},
        "encoding": {
          "x": {"field": "x1", "type": "nominal", "scale": {"type": "point", "padding": 0.6, "domain": ["GLN227","GLN221B","GLN268A","GLN321","GLN282","GLN258","GLN235","GLN245A","GLN267","GLN268B","GLN223","GLN262","GLN244","GLN211B","GLN214","GLN236B","GLN279","GLN210","GLN204","GLN301","GLN322","GLN206","GLN309","GLN208","GLN215B","GLN211A","GLN306","GLN285B","GLN215A","GLN326","GLN229","GLN226","GLN308","GLN313","GLN232C","GLN307"]}, "axis": {"title": null}},
          "x2": {"field": "x2"},
          "y": {"field": "m", "type": "quantitative", "axis": {"title": "Mean Pairwise Mismatch Rate (READ)"}},
          "stroke": {"field": "cb", "type": "nominal", "scale": {"domain": ["Male Non-adult", "Female Non-adult"], "range": ["#56B4E9", "#E69F00"]},
            "legend": {"title": " ", "orient": "none", "legendX": 1804, "legendY": 264, "values": ["Female Non-adult", "Male Non-adult"], "symbolType": "stroke", "symbolSize": 1296, "symbolStrokeWidth": 4, "symbolDash": [10, 26], "rowPadding": 0, "labelExpr": "''", "titleFontSize": 22, "titleFontWeight": "normal", "titlePadding": 8, "padding": 0}}
        }
      },
      {
        "data": {"name": "b_pts"},
        "mark": {"type": "point", "filled": true, "opacity": 1, "stroke": "#000000", "strokeWidth": 1.5},
        "encoding": {
          "x": {"field": "s", "type": "nominal", "scale": {"type": "point", "padding": 0.6, "domain": ["GLN227","GLN221B","GLN268A","GLN321","GLN282","GLN258","GLN235","GLN245A","GLN267","GLN268B","GLN223","GLN262","GLN244","GLN211B","GLN214","GLN236B","GLN279","GLN210","GLN204","GLN301","GLN322","GLN206","GLN309","GLN208","GLN215B","GLN211A","GLN306","GLN285B","GLN215A","GLN326","GLN229","GLN226","GLN308","GLN313","GLN232C","GLN307"]}, "axis": {"title": null}},
          "y": {"field": "v", "type": "quantitative", "axis": {"title": "Mean Pairwise Mismatch Rate (READ)"}},
          "fill": {"field": "c", "type": "nominal", "scale": {"domain": ["Female Non-adult", "Male Non-adult"], "range": ["#E69F00", "#56B4E9"]},
            "legend": {"title": " ", "orient": "none", "legendX": 1813, "legendY": 273, "symbolSize": 330, "symbolOpacity": 1, "symbolStrokeColor": "#000000", "symbolStrokeWidth": 1.5, "rowPadding": 18, "labelExpr": "''", "titleFontSize": 22, "titleFontWeight": "normal", "titlePadding": 8, "padding": 0, "labelFontSize": 18}},
          "shape": {"field": "c", "type": "nominal", "scale": {"domain": ["Female Non-adult", "Male Non-adult"], "range": ["circle", "triangle-up"]}},
          "size": {"field": "c", "type": "ordinal", "scale": {"range": [289, 441]}, "legend": null}
        }
      }
    ]
  },
  {
    "title": {"text": "c", "orient": "left", "anchor": "end", "angle": 0, "align": "right", "baseline": "alphabetic", "dy": 39, "offset": 81},
    "spacing": 0,
    "hconcat": [
      {
        "width": 409, "height": 10,
        "view": {"stroke": null},
        "data": {"values": []},
        "mark": "point"
      },
      {
        "data": {"name": "c_pts"},
        "facet": {"column": {"field": "p", "type": "nominal", "header": null}},
        "spacing": 10,
        "spec": {
          "width": 310, "height": 750,
          "layer": [
            {
              "transform": [
                {"bin": {"step": 0.002, "extent": [0.26, 0.46]}, "field": "v", "as": "bv"},
                {"window": [{"op": "row_number", "as": "r"}], "groupby": ["p", "bv"]}
              ],
              "mark": {"type": "circle", "size": 55, "opacity": 1, "stroke": "#1A1A1A", "strokeWidth": 0.9},
              "encoding": {
                "x": {"field": "r", "type": "ordinal", "scale": {"type": "band", "paddingInner": 0, "paddingOuter": 0, "domain": [50,48,46,44,42,40,38,36,34,32,30,28,26,24,22,20,18,16,14,12,10,8,6,4,2,1,3,5,7,9,11,13,15,17,19,21,23,25,27,29,31,33,35,37,39,41,43,45,47,49,51]},
                      "axis": {"values": [1], "labels": false, "ticks": false, "title": null, "grid": true, "domain": false}},
                "y": {"field": "v", "type": "quantitative", "scale": {"domain": [0.26573, 0.46238], "nice": false, "zero": false},
                      "axis": {"title": "f3-out-pairwise", "titleFontSize": 19.5, "labelFontSize": 15.6, "tickSize": 7, "labelPadding": 3, "titlePadding": 7,
                        "values": [0.275, 0.3, 0.325, 0.35, 0.375, 0.4, 0.425, 0.45],
                        "labelExpr": "indexof([0.275,0.325,0.375,0.425], datum.value) >= 0 ? '' : format(datum.value, '.2f')",
                        "tickOpacity": {"condition": {"test": "indexof([0.275,0.325,0.375,0.425], datum.value) >= 0", "value": 0}, "value": 1},
                        "gridWidth": {"condition": {"test": "indexof([0.275,0.325,0.375,0.425], datum.value) >= 0", "value": 0.9}, "value": 1.8}}},
                "fill": {"field": "p", "type": "nominal", "scale": {"domain": ["F-F", "F-M", "M-M"], "range": ["#D55E00", "#D3D3D3", "#1B74B3"]}, "legend": null}
              }
            },
            {
              "transform": [{"aggregate": [{"op": "count", "as": "n"}], "groupby": ["p"]}],
              "mark": {"type": "rect", "fill": "#D9D9D9", "stroke": "#333333", "strokeWidth": 1.6},
              "encoding": {
                "y": {"datum": 0.45433, "type": "quantitative"},
                "y2": {"datum": 0.46238}
              }
            },
            {
              "transform": [{"aggregate": [{"op": "count", "as": "n"}], "groupby": ["p"]}],
              "mark": {"type": "text", "fontSize": 15.6, "color": "#1A1A1A", "baseline": "middle", "align": "center"},
              "encoding": {
                "x": {"datum": 1, "type": "ordinal"},
                "y": {"datum": 0.45836, "type": "quantitative"},
                "text": {"field": "p", "type": "nominal"}
              }
            }
          ]
        }
      }
    ]
  }
]
}
